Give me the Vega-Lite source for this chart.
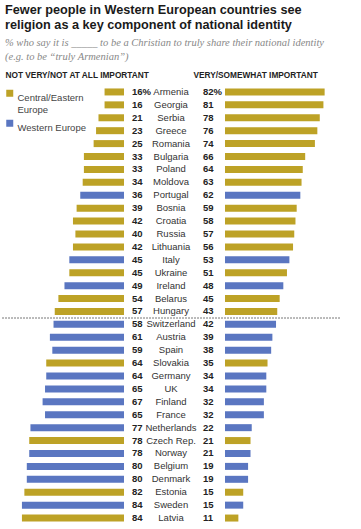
{
  "$schema": "https://vega.github.io/schema/vega-lite/v6.json",
  "width": 361,
  "height": 439,
  "autosize": {"type": "none"},
  "padding": {"left": 0, "right": 0, "top": 85.5, "bottom": 4.5},
  "background": "white",
  "config": {"view": {"stroke": null}, "font": "Liberation Sans"},
  "title": {
    "text": ["Fewer people in Western European countries see", "religion as a key component of national identity"],
    "subtitle": ["% who say it is _____ to be a Christian to truly share their national identity", "(e.g. to be “truly Armenian”)"],
    "anchor": "start",
    "frame": "group",
    "dx": 5,
    "offset": 8,
    "font": "Liberation Sans",
    "fontSize": 12.7,
    "fontWeight": "bold",
    "color": "#1a1a1a",
    "lineHeight": 15,
    "subtitleFont": "Liberation Serif",
    "subtitleFontStyle": "italic",
    "subtitleFontSize": 10.5,
    "subtitleColor": "#888888",
    "subtitleLineHeight": 14,
    "subtitlePadding": 6
  },
  "data": {
    "values": [
      {"country": "Armenia", "notImp": 16, "imp": 82, "region": "Central/Eastern Europe"},
      {"country": "Georgia", "notImp": 16, "imp": 81, "region": "Central/Eastern Europe"},
      {"country": "Serbia", "notImp": 21, "imp": 78, "region": "Central/Eastern Europe"},
      {"country": "Greece", "notImp": 23, "imp": 76, "region": "Central/Eastern Europe"},
      {"country": "Romania", "notImp": 25, "imp": 74, "region": "Central/Eastern Europe"},
      {"country": "Bulgaria", "notImp": 33, "imp": 66, "region": "Central/Eastern Europe"},
      {"country": "Poland", "notImp": 33, "imp": 64, "region": "Central/Eastern Europe"},
      {"country": "Moldova", "notImp": 34, "imp": 63, "region": "Central/Eastern Europe"},
      {"country": "Portugal", "notImp": 36, "imp": 62, "region": "Western Europe"},
      {"country": "Bosnia", "notImp": 39, "imp": 59, "region": "Central/Eastern Europe"},
      {"country": "Croatia", "notImp": 42, "imp": 58, "region": "Central/Eastern Europe"},
      {"country": "Russia", "notImp": 40, "imp": 57, "region": "Central/Eastern Europe"},
      {"country": "Lithuania", "notImp": 42, "imp": 56, "region": "Central/Eastern Europe"},
      {"country": "Italy", "notImp": 45, "imp": 53, "region": "Western Europe"},
      {"country": "Ukraine", "notImp": 45, "imp": 51, "region": "Central/Eastern Europe"},
      {"country": "Ireland", "notImp": 49, "imp": 48, "region": "Western Europe"},
      {"country": "Belarus", "notImp": 54, "imp": 45, "region": "Central/Eastern Europe"},
      {"country": "Hungary", "notImp": 57, "imp": 43, "region": "Central/Eastern Europe"},
      {"country": "Switzerland", "notImp": 58, "imp": 42, "region": "Western Europe"},
      {"country": "Austria", "notImp": 61, "imp": 39, "region": "Western Europe"},
      {"country": "Spain", "notImp": 59, "imp": 38, "region": "Western Europe"},
      {"country": "Slovakia", "notImp": 64, "imp": 35, "region": "Central/Eastern Europe"},
      {"country": "Germany", "notImp": 64, "imp": 34, "region": "Western Europe"},
      {"country": "UK", "notImp": 65, "imp": 34, "region": "Western Europe"},
      {"country": "Finland", "notImp": 67, "imp": 32, "region": "Western Europe"},
      {"country": "France", "notImp": 65, "imp": 32, "region": "Western Europe"},
      {"country": "Netherlands", "notImp": 77, "imp": 22, "region": "Western Europe"},
      {"country": "Czech Rep.", "notImp": 78, "imp": 21, "region": "Central/Eastern Europe"},
      {"country": "Norway", "notImp": 78, "imp": 21, "region": "Western Europe"},
      {"country": "Belgium", "notImp": 80, "imp": 19, "region": "Western Europe"},
      {"country": "Denmark", "notImp": 80, "imp": 19, "region": "Western Europe"},
      {"country": "Estonia", "notImp": 82, "imp": 15, "region": "Central/Eastern Europe"},
      {"country": "Sweden", "notImp": 84, "imp": 15, "region": "Western Europe"},
      {"country": "Latvia", "notImp": 84, "imp": 11, "region": "Central/Eastern Europe"}
    ]
  },
  "encoding": {
    "y": {
      "field": "country",
      "type": "nominal",
      "axis": null,
      "scale": {
        "domain": ["Armenia", "Georgia", "Serbia", "Greece", "Romania", "Bulgaria", "Poland", "Moldova", "Portugal", "Bosnia", "Croatia", "Russia", "Lithuania", "Italy", "Ukraine", "Ireland", "Belarus", "Hungary", "Switzerland", "Austria", "Spain", "Slovakia", "Germany", "UK", "Finland", "France", "Netherlands", "Czech Rep.", "Norway", "Belgium", "Denmark", "Estonia", "Sweden", "Latvia"],
        "paddingInner": 0,
        "paddingOuter": 0
      }
    }
  },
  "layer": [
    {
      "layer": [
        {
          "mark": {"type": "bar", "size": 7},
          "encoding": {
            "x": {
              "field": "notImp",
              "type": "quantitative",
              "scale": {"domain": [0, 100], "range": [124, 2.5]},
              "axis": {"orient": "top", "title": "NOT VERY/NOT AT ALL IMPORTANT", "labels": false, "ticks": false, "domain": false, "grid": false, "titleX": 5, "titleY": -8.5, "titleAlign": "left", "titleBaseline": "alphabetic", "titleFontSize": 8.3, "titleFontWeight": "bold", "titleColor": "#222222", "titleFont": "Liberation Sans"}
            },
            "color": {
              "field": "region",
              "type": "nominal",
              "scale": {"domain": ["Central/Eastern Europe", "Western Europe"], "range": ["#bda226", "#5a76c1"]},
              "legend": {"orient": "none", "legendX": 5, "legendY": 3, "title": null, "symbolType": "square", "symbolSize": 49, "symbolStrokeWidth": 0, "labelFontSize": 9.5, "labelColor": "#444444", "labelFont": "Liberation Sans", "labelBaseline": "top", "labelOffset": 3, "rowPadding": 4, "labelExpr": "datum.label == 'Central/Eastern Europe' ? ['Central/Eastern', 'Europe'] : datum.label"}
            }
          }
        },
        {
          "transform": [{"calculate": "datum.country === 'Armenia' ? datum.notImp + '%' : '' + datum.notImp", "as": "lab"}],
          "mark": {"type": "text", "align": "left", "baseline": "middle", "dx": 8, "fontWeight": "bold", "fontSize": 9.5, "color": "#222222"},
          "encoding": {
            "x": {"datum": 0, "type": "quantitative"},
            "text": {"field": "lab"}
          }
        }
      ]
    },
    {
      "layer": [
        {
          "mark": {"type": "bar", "size": 7},
          "encoding": {
            "x": {
              "field": "imp",
              "type": "quantitative",
              "scale": {"domain": [0, 100], "range": [225, 346.5]},
              "axis": {"orient": "top", "title": "VERY/SOMEWHAT IMPORTANT", "labels": false, "ticks": false, "domain": false, "grid": false, "titleX": 193, "titleY": -8.5, "titleAlign": "left", "titleBaseline": "alphabetic", "titleFontSize": 8.3, "titleFontWeight": "bold", "titleColor": "#222222", "titleFont": "Liberation Sans"}
            },
            "color": {"field": "region", "type": "nominal"}
          }
        },
        {
          "transform": [{"calculate": "datum.country === 'Armenia' ? datum.imp + '%' : '' + datum.imp", "as": "lab"}],
          "mark": {"type": "text", "align": "left", "baseline": "middle", "dx": -22, "fontWeight": "bold", "fontSize": 9.5, "color": "#222222"},
          "encoding": {
            "x": {"datum": 0, "type": "quantitative"},
            "text": {"field": "lab"}
          }
        },
        {
          "mark": {"type": "text", "align": "center", "baseline": "middle", "dx": -54, "fontSize": 9.5, "color": "#333333"},
          "encoding": {
            "x": {"datum": 0, "type": "quantitative"},
            "text": {"field": "country"}
          }
        },
        {
          "mark": {"type": "rule", "strokeDash": [1, 2], "stroke": "#bbbbbb", "strokeWidth": 1},
          "encoding": {
            "x": {"datum": -183, "type": "quantitative"},
            "x2": {"datum": 95},
            "y": {"datum": "Switzerland", "type": "nominal", "bandPosition": 0}
          }
        }
      ]
    }
  ],
  "resolve": {"scale": {"x": "independent"}}
}
